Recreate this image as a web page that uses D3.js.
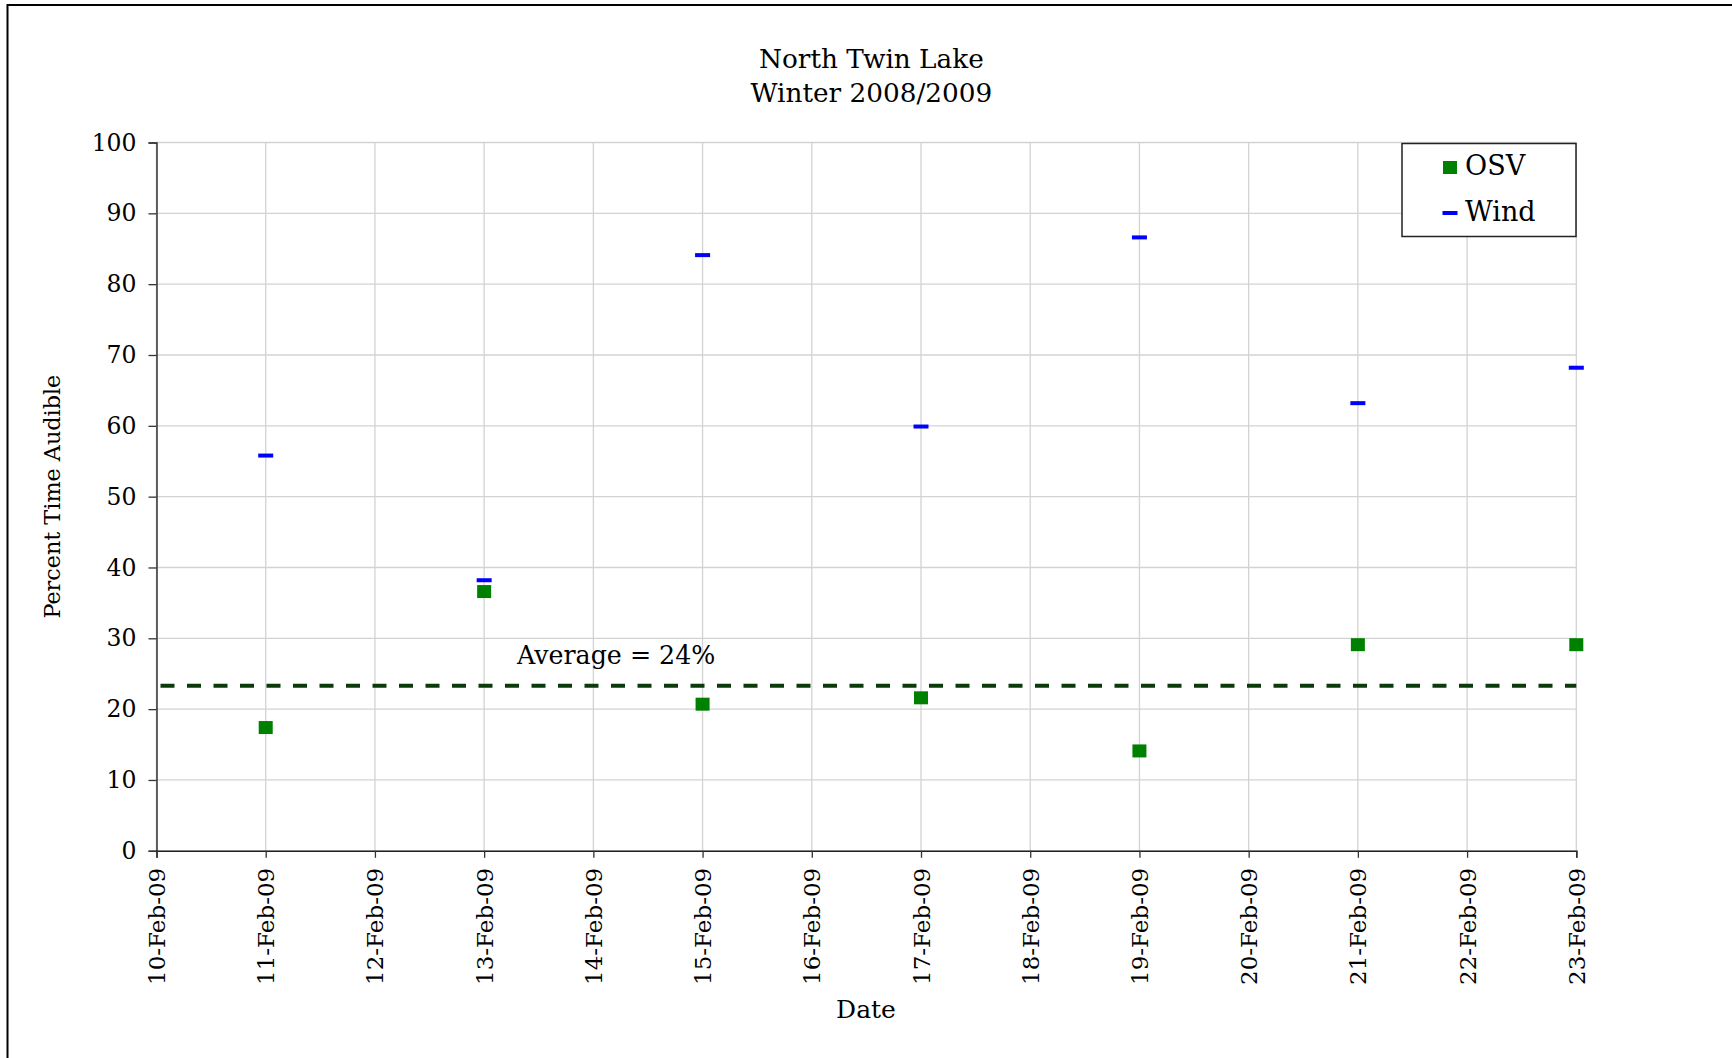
<!DOCTYPE html>
<html><head><meta charset="utf-8">
<script src="https://cdn.jsdelivr.net/npm/d3@7"></script>
<style>html,body{margin:0;padding:0;background:#fff;}svg{display:block;}</style>
</head><body>
<svg id="chart" width="1732" height="1058"></svg>
<script>
const titleLines = ["North Twin Lake", "Winter 2008/2009"];
const dates = ["2009-02-11","2009-02-13","2009-02-15","2009-02-17","2009-02-19","2009-02-21","2009-02-23"];
const osv  = [17.4, 36.6, 20.7, 21.6, 14.1, 29.1, 29.1];
const wind = [55.8, 38.2, 84.1, 59.9, 86.6, 63.2, 68.2];
const averageValue = 23.3;
const averageLabel = "Average = 24%";
const xDomain = ["2009-02-10","2009-02-23"];
const yTicks = [0,10,20,30,40,50,60,70,80,90,100];
const seriesNames = ["OSV","Wind"];

const parse = d3.timeParse("%Y-%m-%d");
const svg = d3.select("#chart");
const FONT = "DejaVu Serif";
const L = 156.5, R = 1576.3, T = 142.5, B = 850.8;

const x = d3.scaleTime().domain(xDomain.map(parse)).range([L, R]);
const y = d3.scaleLinear().domain([0, 100]).range([B, T]);

// outer frame (top and left)
svg.append("line").attr("x1",7.5).attr("x2",1732).attr("y1",5).attr("y2",5).attr("stroke","#000").attr("stroke-width",2);
svg.append("line").attr("x1",7.5).attr("x2",7.5).attr("y1",4).attr("y2",1058).attr("stroke","#000").attr("stroke-width",2);

// title
svg.append("text").attr("x",(L+R)/2+5).attr("y",68).attr("text-anchor","middle")
  .attr("font-family",FONT).attr("font-size",26.3).text(titleLines[0]);
svg.append("text").attr("x",(L+R)/2+5).attr("y",101.5).attr("text-anchor","middle")
  .attr("font-family",FONT).attr("font-size",26.3).text(titleLines[1]);

// gridlines
const days = d3.timeDay.range(parse(xDomain[0]), d3.timeDay.offset(parse(xDomain[1]),1));
svg.append("g").selectAll("line").data(days).join("line")
  .attr("x1",d=>x(d)).attr("x2",d=>x(d)).attr("y1",T).attr("y2",B)
  .attr("stroke","#d3d3d3").attr("stroke-width",1.3);
svg.append("g").selectAll("line").data(yTicks).join("line")
  .attr("x1",L).attr("x2",R).attr("y1",d=>y(d)).attr("y2",d=>y(d))
  .attr("stroke","#d3d3d3").attr("stroke-width",1.3);

// axes
const yAxis = svg.append("g").attr("transform",`translate(${L},0)`)
  .call(d3.axisLeft(y).tickValues(yTicks).tickSize(8).tickPadding(12).tickFormat(d3.format("d")));
yAxis.select(".domain").attr("stroke","#333").attr("stroke-width",1.5);
yAxis.selectAll(".tick line").attr("stroke","#333").attr("stroke-width",1.3);
yAxis.selectAll("text").attr("font-family",FONT).attr("font-size",23.5).attr("fill","#000");

const xAxis = svg.append("g").attr("transform",`translate(0,${B})`)
  .call(d3.axisBottom(x).tickValues(days).tickSize(7).tickFormat(d3.timeFormat("%d-%b-%y")));
xAxis.select(".domain").attr("stroke","#222").attr("stroke-width",1.5);
xAxis.selectAll(".tick line").attr("stroke","#333").attr("stroke-width",1.3);
xAxis.selectAll("text").attr("font-family",FONT).attr("font-size",23).attr("fill","#000")
  .attr("text-anchor","end").attr("dy",null).attr("y",null)
  .attr("transform","translate(8,17) rotate(-90)");

// axis titles
svg.append("text").attr("transform",`translate(60,${(T+B)/2}) rotate(-90)`).attr("text-anchor","middle")
  .attr("font-family",FONT).attr("font-size",22.3).text("Percent Time Audible");
svg.append("text").attr("x",866).attr("y",1018).attr("text-anchor","middle")
  .attr("font-family",FONT).attr("font-size",25).text("Date");

// average line
svg.append("line").attr("x1",L+4).attr("x2",R).attr("y1",y(averageValue)).attr("y2",y(averageValue))
  .attr("stroke","#0b3b0b").attr("stroke-width",4).attr("stroke-dasharray","14,12.5");
svg.append("text").attr("x",517).attr("y",664).attr("font-family",FONT).attr("font-size",25.3).text(averageLabel);

// series
const pts = dates.map((d,i)=>({date:parse(d), osv:osv[i], wind:wind[i]}));
svg.append("g").selectAll("rect").data(pts).join("rect")
  .attr("x",d=>x(d.date)-7).attr("y",d=>y(d.osv)-6.5).attr("width",14).attr("height",13)
  .attr("fill","#008000");
svg.append("g").selectAll("rect").data(pts).join("rect")
  .attr("x",d=>x(d.date)-7.5).attr("y",d=>y(d.wind)-2).attr("width",15).attr("height",4)
  .attr("fill","#0000ff");

// legend
const lg = svg.append("g");
lg.append("rect").attr("x",1402).attr("y",143.5).attr("width",174).attr("height",93)
  .attr("fill","#fff").attr("stroke","#222").attr("stroke-width",1.5);
lg.append("rect").attr("x",1443).attr("y",161).attr("width",14).attr("height",13).attr("fill","#008000");
lg.append("rect").attr("x",1442.5).attr("y",211).attr("width",15).attr("height",4).attr("fill","#0000ff");
lg.append("text").attr("x",1465).attr("y",175).attr("font-family",FONT).attr("font-size",27).text(seriesNames[0]);
lg.append("text").attr("x",1465).attr("y",221).attr("font-family",FONT).attr("font-size",27).text(seriesNames[1]);
</script>
</body></html>
